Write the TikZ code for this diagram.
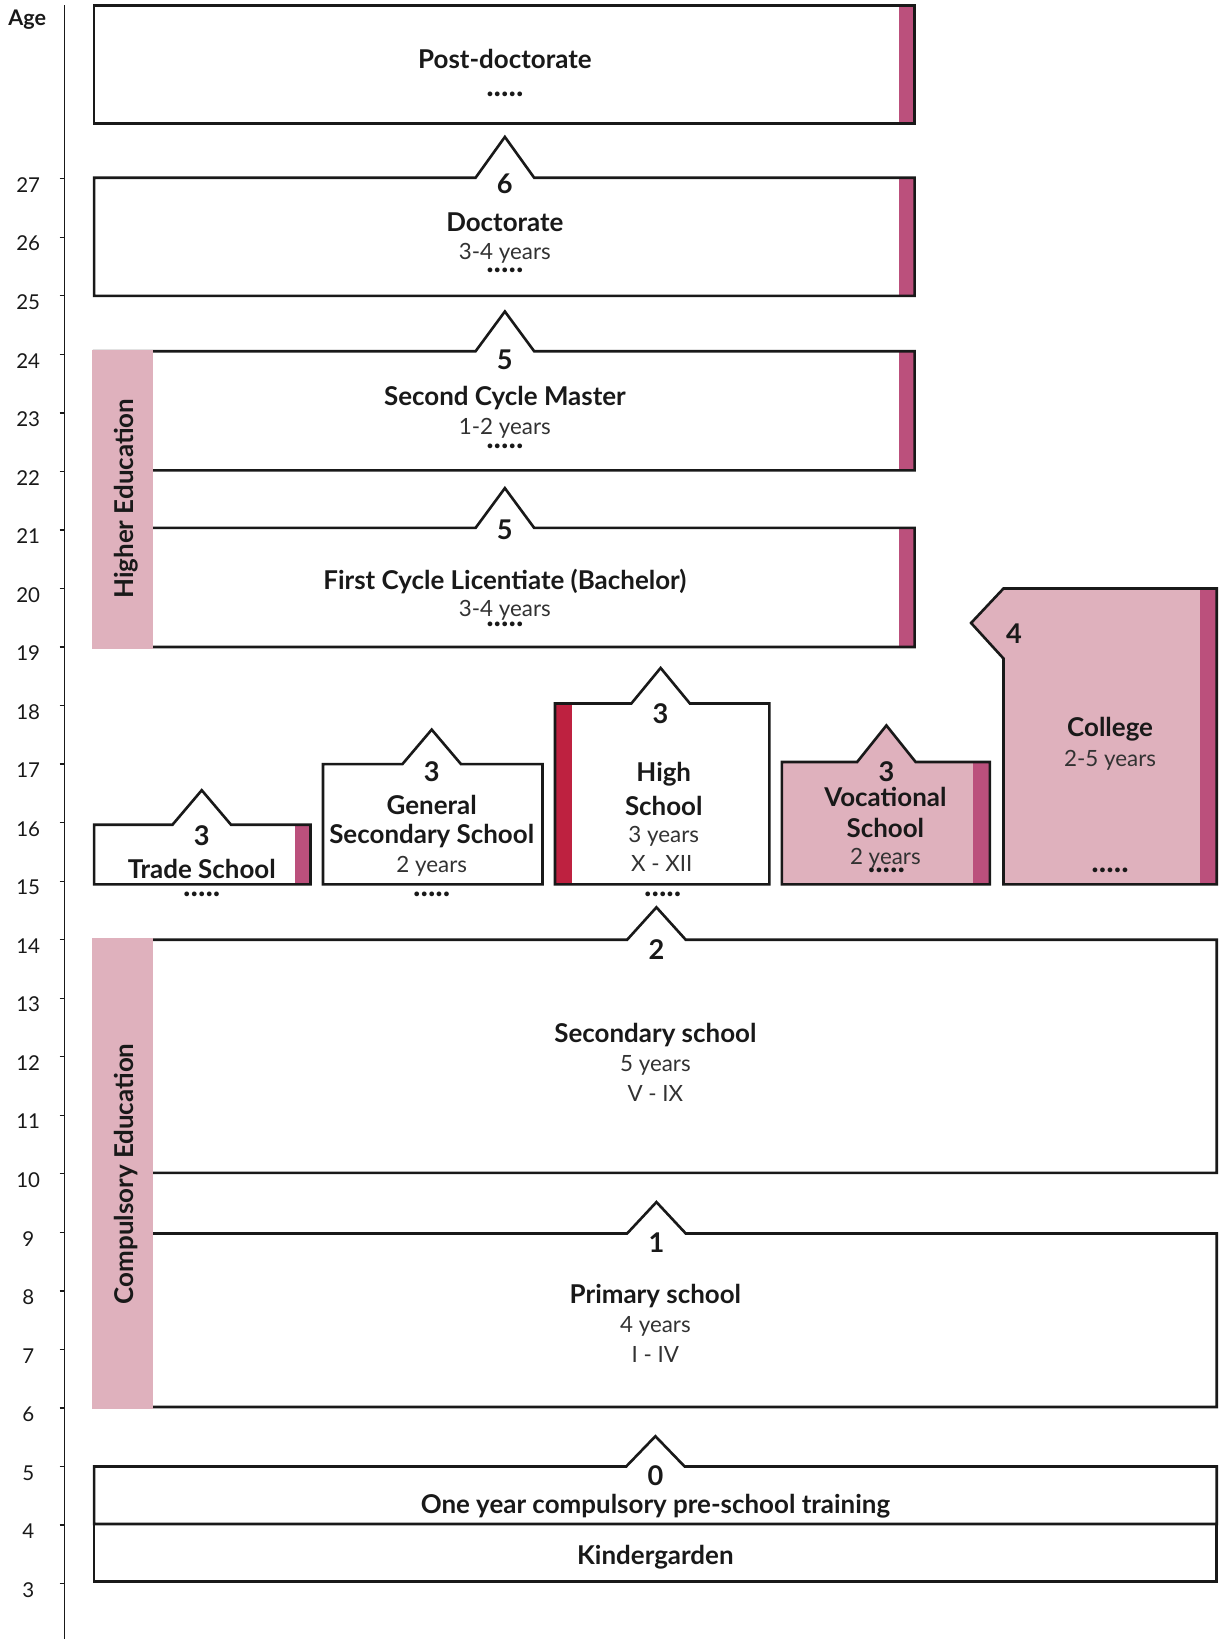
\documentclass[tikz,border=0pt]{standalone}
\usepackage{fontspec}
\setmainfont{Lato}
\definecolor{pinkL}{RGB}{223,177,189}
\definecolor{pinkD}{RGB}{187,80,124}
\definecolor{crim}{RGB}{190,33,64}
\definecolor{ink}{RGB}{25,25,25}
\definecolor{subink}{RGB}{50,50,50}
\begin{document}
\begin{tikzpicture}[x=0.5pt,y=-0.5pt,
  boxline/.style={draw=ink,line width=1.25pt,line join=miter},
  axisline/.style={draw=ink,line width=0.6pt},
  title/.style={inner sep=0pt,text=ink,font=\bfseries\fontsize{12.4}{14}\selectfont},
  num/.style={inner sep=0pt,text=ink,font=\bfseries\fontsize{13}{14}\selectfont},
  sub/.style={inner sep=0pt,text=subink,font=\fontsize{10.7}{12}\selectfont},
  dots/.style={inner sep=0pt,text=ink,font=\bfseries\fontsize{15}{15}\selectfont},
  agelbl/.style={inner sep=0pt,text=ink,font=\fontsize{9.8}{11}\selectfont},
  band/.style={fill=pinkL},
  bar/.style={fill=pinkD}]
\useasboundingbox (0,0) rectangle (1170,1568);

% ---- age axis
\draw[axisline] (62,5) -- (62,1568);
\node[title,font=\bfseries\fontsize{10.3}{12}\selectfont] (age) at (26,19) {Age};
\foreach \a in {3,...,27} {
  \pgfmathsetmacro{\ty}{171+(27-\a)*56}
  \pgfmathsetmacro{\ly}{177+(27-\a)*56}
  \draw[axisline] (57,\ty) -- (62,\ty);
  \node[agelbl] (age\a) at (27,\ly) {\a};
}

% ---- Post-doctorate
\fill[white] (90,5) rectangle (875,118);
\fill[bar] (860,5) rectangle (875,118);
\draw[boxline] (90,5) rectangle (875,118);
\node[title] (postdoc) at (483,56) {Post-doctorate};
\node[dots] (postdocdots) at (483,90) {.....};

% ---- Doctorate
\fill[bar] (860,170) rectangle (875,283);
\draw[boxline] (90,170) -- (455,170) -- (483,131) -- (511,170) -- (875,170) -- (875,283) -- (90,283) -- cycle;
\node[num] (n6) at (483,176) {6};
\node[title] (doct) at (483,213) {Doctorate};
\node[sub] (doctyrs) at (483,242) {3-4 years};
\node[dots] (doctdots) at (483,259) {.....};

% ---- Second Cycle Master
\fill[bar] (860,336) rectangle (875,450);
\draw[boxline] (90,336) -- (455,336) -- (483,298) -- (511,336) -- (875,336) -- (875,450) -- (90,450) -- cycle;
\node[num] (n5a) at (483,344) {5};
\node[title] (master) at (483,381) {Second Cycle Master};
\node[sub] (masteryrs) at (483,410) {1-2 years};
\node[dots] (masterdots) at (483,427) {.....};

% ---- First Cycle Licentiate
\fill[bar] (860,505) rectangle (875,619);
\draw[boxline] (90,505) -- (455,505) -- (483,467) -- (511,505) -- (875,505) -- (875,619) -- (90,619) -- cycle;
\node[num] (n5b) at (483,507) {5};
\node[title] (bach) at (483,556) {First Cycle Licentiate (Bachelor)};
\node[sub] (bachyrs) at (483,584) {3-4 years};
\node[dots] (bachdots) at (483,597) {.....};

% ---- Higher Education band
\fill[band] (88,334.5) rectangle (146,620.5);
\node[title,rotate=90] (higher) at (121,477) {Higher Education};

% ---- Trade School
\fill[white] (90,789) rectangle (297,846);
\fill[bar] (282,789) rectangle (297,846);
\draw[boxline] (90,789) -- (165,789) -- (193,756) -- (221,789) -- (297,789) -- (297,846) -- (90,846) -- cycle;
\node[num] (n3a) at (193,799) {3};
\node[title] (trade) at (193,831) {Trade School};
\node[dots] (tradedots) at (193,856) {.....};

% ---- General Secondary School
\draw[boxline] (309,731) -- (385,731) -- (413,698) -- (441,731) -- (519,731) -- (519,846) -- (309,846) -- cycle;
\node[num] (n3b) at (413,738) {3};
\node[title] (gen1) at (413,770) {General};
\node[title] (gen2) at (413,800) {Secondary School};
\node[sub] (genyrs) at (413,829) {2 years};
\node[dots] (gendots) at (413,856) {.....};

% ---- High School
\fill[crim] (531,673) rectangle (547,846);
\draw[boxline] (531,673) -- (604,673) -- (632,639) -- (660,673) -- (736,673) -- (736,846) -- (531,846) -- cycle;
\node[num] (n3c) at (632,683) {3};
\node[title] (high1) at (635,741) {High};
\node[title] (high2) at (635,771) {School};
\node[sub] (highyrs) at (635,800) {3 years};
\node[sub] (highgr) at (633,826) {X - XII};
\node[dots] (highdots) at (634,856) {.....};

% ---- Vocational School
\fill[pinkL] (748,729) -- (820,729) -- (848,694) -- (876,729) -- (947,729) -- (947,846) -- (748,846) -- cycle;
\fill[bar] (931,729) rectangle (947,846);
\draw[boxline] (748,729) -- (820,729) -- (848,694) -- (876,729) -- (947,729) -- (947,846) -- (748,846) -- cycle;
\node[num] (n3d) at (848,738) {3};
\node[title] (voc1) at (847,762) {Vocational};
\node[title] (voc2) at (847,792) {School};
\node[sub] (vocyrs) at (847,821) {2 years};
\node[dots] (vocdots) at (848,833) {.....};

% ---- College
\fill[pinkL] (960,563) -- (1164,563) -- (1164,846) -- (960,846) -- (960,630) -- (929,596) -- cycle;
\fill[bar] (1148,563) rectangle (1164,846);
\draw[boxline] (960,563) -- (1164,563) -- (1164,846) -- (960,846) -- (960,630) -- (929,596) -- cycle;
\node[num] (n4) at (970,606) {4};
\node[title] (college) at (1062,698) {College};
\node[sub] (collyrs) at (1062,727) {2-5 years};
\node[dots] (colldots) at (1062,833) {.....};

% ---- Secondary school
\draw[boxline] (90,899) -- (600,899) -- (628,868) -- (656,899) -- (1164,899) -- (1164,1122) -- (90,1122) -- cycle;
\node[num] (n2) at (628,908) {2};
\node[title] (sec) at (627,990) {Secondary school};
\node[sub] (secyrs) at (627,1019) {5 years};
\node[sub] (secgr) at (627,1046) {V - IX};

% ---- Primary school
\draw[boxline] (90,1180) -- (600,1180) -- (628,1150) -- (656,1180) -- (1164,1180) -- (1164,1346) -- (90,1346) -- cycle;
\node[num] (n1) at (628,1189) {1};
\node[title] (prim) at (627,1240) {Primary school};
\node[sub] (primyrs) at (627,1269) {4 years};
\node[sub] (primgr) at (627,1296) {I - IV};

% ---- Compulsory Education band
\fill[band] (88,897.5) rectangle (146,1347.5);
\node[title,rotate=90] (compulsory) at (121,1123) {Compulsory Education};

% ---- Pre-school
\draw[boxline] (90,1403) -- (599,1403) -- (627,1374) -- (655,1403) -- (1164,1403) -- (1164,1458) -- (90,1458) -- cycle;
\node[num] (n0) at (627,1412) {0};
\node[title] (presch) at (627,1441) {One year compulsory pre-school training};

% ---- Kindergarden
\draw[boxline] (90,1458) rectangle (1164,1513);
\node[title] (kinder) at (627,1490) {Kindergarden};
\end{tikzpicture}
\end{document}
